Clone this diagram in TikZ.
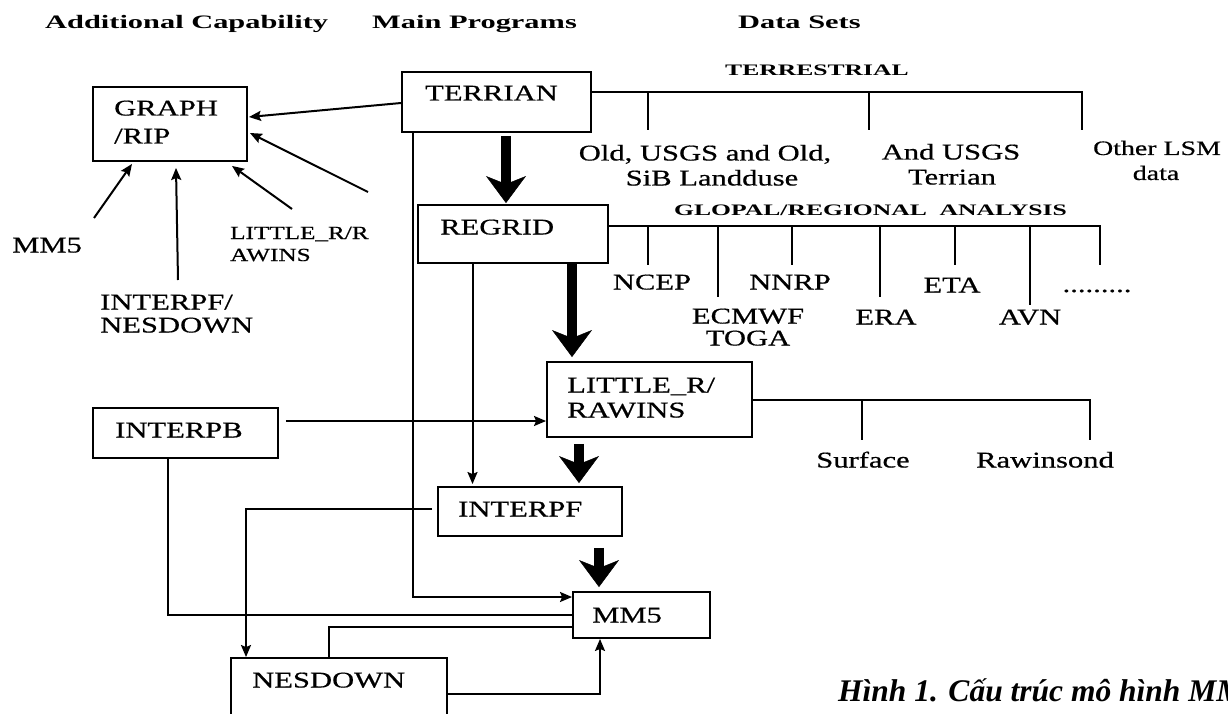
\documentclass[tikz,border=0pt]{standalone}
\usepackage{fontspec}
\setmainfont{Liberation Serif}[FakeStretch=1.36,FakeBold=0.6]
\newfontfamily\hdfont{Liberation Serif}[FakeStretch=1.6]
\newfontfamily\capfont{Liberation Serif}
\usetikzlibrary{arrows.meta}
\tikzset{
  box/.style={draw, line width=1.9pt, inner sep=0pt},
  txt/.style={inner sep=0pt, anchor=base west, font=\fontsize{22.5}{27}\selectfont},
  ctxt/.style={inner sep=0pt, anchor=base, font=\fontsize{22.5}{27}\selectfont},
  sml/.style={inner sep=0pt, anchor=base west, font=\fontsize{18.5}{22}\selectfont},
  csml/.style={inner sep=0pt, anchor=base, font=\fontsize{20.5}{24}\selectfont},
  hd/.style={inner sep=0pt, anchor=base west, font=\hdfont\bfseries\fontsize{19}{23}\selectfont},
  sub/.style={inner sep=0pt, anchor=base west, font=\hdfont\bfseries\fontsize{16}{19}\selectfont},
  ln/.style={line width=2pt},
  tk/.style={line width=2.3pt},
  arr/.style={line width=2pt, -{Stealth[length=12pt,width=10pt,inset=2pt]}},
  big/.style={line width=9.5pt, -{Stealth[length=27pt,width=40pt,inset=8pt,line width=0.5pt]}},
}
\begin{document}
\begin{tikzpicture}[x=1pt,y=-1pt]
\useasboundingbox[fill=white] (0,0) rectangle (1228,714);
\clip (0,0) rectangle (1228,714);

% headers
\node[hd] (h1) at (45,29) {Additional Capability};
\node[hd] (h2) at (372,29) {Main Programs};
\node[hd] (h3) at (738,29) {Data Sets};
\node[sub] (terr) at (725,75.3) {TERRESTRIAL};
\node[sub] (glob) at (674,215.3) {GLOPAL/REGIONAL~ ANALYSIS};

% boxes
\node[box, minimum width=154pt, minimum height=74pt] (graph) at (170,124) {};
\node[box, minimum width=189pt, minimum height=60pt] (terrian) at (496.5,102) {};
\node[box, minimum width=190pt, minimum height=58pt] (regrid) at (513,234) {};
\node[box, minimum width=205pt, minimum height=75pt] (little) at (649.5,399.5) {};
\node[box, minimum width=184pt, minimum height=49pt] (interpf) at (530,511.5) {};
\node[box, minimum width=185pt, minimum height=50pt] (interpb) at (185.5,433) {};
\node[box, minimum width=137pt, minimum height=46pt] (mm5) at (641.5,615) {};
\node[box, minimum width=216pt, minimum height=72pt] (nesdown) at (339,694) {};

% box texts
\node[txt] (tgraph) at (114,115.5) {GRAPH};
\node[txt] (trip) at (114,143.5) {/RIP};
\node[txt] (tterrian) at (425,100.5) {TERRIAN};
\node[txt] (tregrid) at (440,234.5) {REGRID};
\node[txt] (tlit1) at (567,392.5) {LITTLE\_R/};
\node[txt] (tlit2) at (567,417.5) {RAWINS};
\node[txt] (tinterpf) at (458,516.5) {INTERPF};
\node[txt] (tmm5) at (592,622.5) {MM5};
\node[txt] (tnes) at (252,687.5) {NESDOWN};
\node[txt] (tinterpb) at (115,437.5) {INTERPB};

% additional capability labels
\node[txt] (lmm5) at (12,252.5) {MM5};
\node[txt] (lint1) at (100,309.5) {INTERPF/};
\node[txt] (lint2) at (100,332.5) {NESDOWN};
\node[sml] (llit1) at (230,239) {LITTLE\_R/R};
\node[sml] (llit2) at (230,261) {AWINS};

% data set labels
\node[ctxt] (d1a) at (705,160.5) {Old, USGS and Old,};
\node[ctxt] (d1b) at (712,185.5) {SiB Landduse};
\node[ctxt] (d2a) at (951,159.5) {And USGS};
\node[ctxt] (d2b) at (952,184.5) {Terrian};
\node[csml] (d3a) at (1157,155) {Other LSM};
\node[csml] (d3b) at (1156,180) {data};
\node[ctxt] (g1) at (652,289.5) {NCEP};
\node[ctxt] (g2a) at (748,323.5) {ECMWF};
\node[ctxt] (g2b) at (748,345.5) {TOGA};
\node[ctxt] (g3) at (790,289.5) {NNRP};
\node[ctxt] (g4) at (886,324.5) {ERA};
\node[ctxt] (g5) at (952,292.5) {ETA};
\node[ctxt] (g6) at (1030,324.5) {AVN};
\node[ctxt] (g7) at (1097,292) {.........};
\node[ctxt] (s1) at (863,467.5) {Surface};
\node[ctxt] (s2) at (1045,467.5) {Rawinsond};

% caption (cut at the right edge, as in the reference)
\node[inner sep=0pt, anchor=base west, font=\capfont\bfseries\itshape\fontsize{31.5}{36}\selectfont] (cap) at (838,701) {Hình 1. Cấu trúc mô hình MM5};

% free ends
\coordinate (fa) at (368,192);
\coordinate (fb) at (292,209);
\coordinate (fc) at (178,280);
\coordinate (fd) at (94,218);

% arrows into GRAPH/RIP
\draw[arr] ([yshift=-1pt]terrian.west) -- ([xshift=1pt,yshift=7pt]graph.east);
\draw[arr] (fa) -- ([xshift=2pt,yshift=-9pt]graph.east);
\draw[arr] (fb) -- ([xshift=62pt,yshift=-4pt]graph.south);
\draw[arr] (fc) -- ([xshift=6pt,yshift=-6pt]graph.south);
\draw[arr] (fd) -- ([xshift=-38pt,yshift=-2pt]graph.south);

% thick main-flow arrows
\draw[big] ([xshift=9.5pt,yshift=-3pt]terrian.south) -- ([xshift=-7pt,yshift=1pt]regrid.north);
\draw[big] ([xshift=59pt]regrid.south) -- ([xshift=-77.5pt,yshift=4pt]little.north);
\draw[big] ([xshift=-70.5pt,yshift=-6pt]little.south) -- ([xshift=49pt,yshift=3pt]interpf.north);
\draw[big] ([xshift=69pt,yshift=-11pt]interpf.south) -- ([xshift=-42.5pt,yshift=4pt]mm5.north);

% thin connectors
\draw[arr] ([xshift=-83.5pt]terrian.south) |- ([yshift=18pt]mm5.west);
\draw[arr] ([xshift=-40.5pt]regrid.south) -- ([xshift=-57.5pt,yshift=2pt]interpf.north);
\draw[arr] ([xshift=7pt,yshift=12pt]interpb.east) -- ([yshift=-21.5pt]little.west);
\draw[ln] ([xshift=-17.5pt]interpb.south) |- (mm5.west);
\draw[arr] ([xshift=-5pt,yshift=2.5pt]interpf.west) -| ([xshift=-93pt]nesdown.north);
\draw[ln] ([yshift=-12pt]mm5.west) -| ([xshift=-10pt]nesdown.north);
\draw[arr] (nesdown.east) -| ([xshift=-41.5pt]mm5.south);

% terrestrial tree
\coordinate (t1) at (648,92); \coordinate (t1b) at (648,130);
\coordinate (t2) at (869,92); \coordinate (t2b) at (869,130);
\coordinate (t3) at (1082,92); \coordinate (t3b) at (1082,130);
\draw[ln] ([yshift=10pt]terrian.east) -- (t3) -- (t3b);
\draw[tk] (t1) -- (t1b);
\draw[tk] (t2) -- (t2b);

% global tree
\coordinate (r1) at (648,226); \coordinate (r1b) at (648,265);
\coordinate (r2) at (718,226); \coordinate (r2b) at (718,297);
\coordinate (r3) at (792,226); \coordinate (r3b) at (792,265);
\coordinate (r4) at (880,226); \coordinate (r4b) at (880,297);
\coordinate (r5) at (955,226); \coordinate (r5b) at (955,265);
\coordinate (r6) at (1030,226); \coordinate (r6b) at (1030,305);
\coordinate (r7) at (1100,226); \coordinate (r7b) at (1100,265);
\draw[ln] ([yshift=8pt]regrid.east) -- (r7) -- (r7b);
\foreach \a/\b in {r1/r1b,r2/r2b,r3/r3b,r4/r4b,r5/r5b,r6/r6b} \draw[tk] (\a) -- (\b);

% observation tree
\coordinate (o1) at (862,400); \coordinate (o1b) at (862,440);
\coordinate (o2) at (1090,400); \coordinate (o2b) at (1090,440);
\draw[ln] ([yshift=-0.5pt]little.east) -- (o2) -- (o2b);
\draw[tk] (o1) -- (o1b);
\end{tikzpicture}
\end{document}
